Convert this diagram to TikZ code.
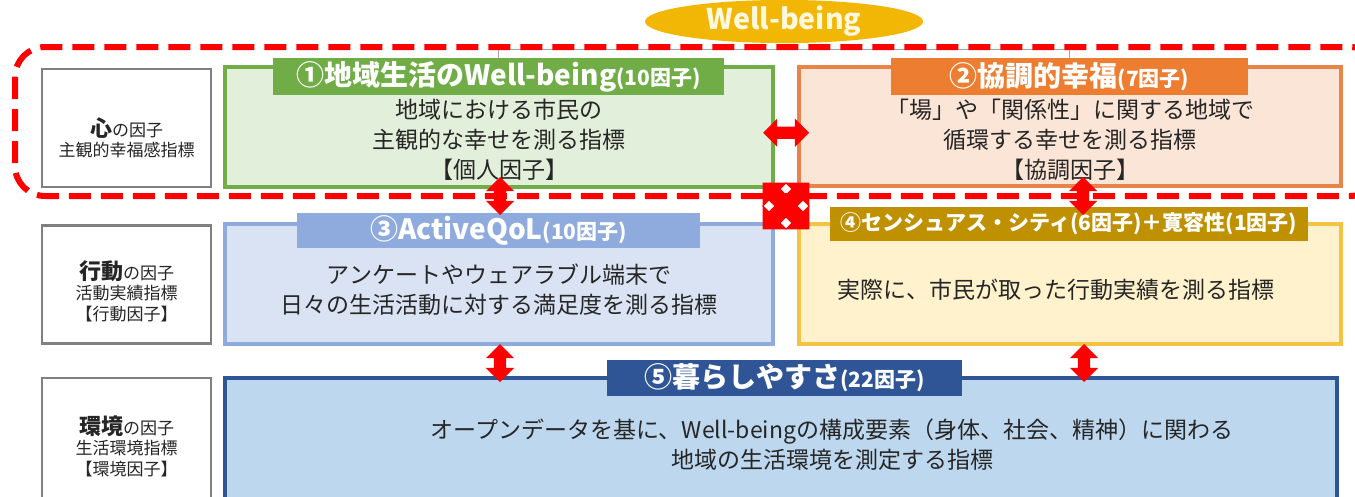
\documentclass[tikz,border=0pt]{standalone}
\usepackage{fontspec}
\setmainfont{Noto Sans CJK JP}
\usetikzlibrary{shapes.arrows,shapes.geometric,calc}
\definecolor{cgreen}{HTML}{70AD47}
\definecolor{cgreenf}{HTML}{E2EFDA}
\definecolor{corange}{HTML}{E8844A}
\definecolor{corangeb}{HTML}{ED7D31}
\definecolor{corangef}{HTML}{FBE5D6}
\definecolor{cblue}{HTML}{8FAADC}
\definecolor{cbluef}{HTML}{DAE3F3}
\definecolor{cyel}{HTML}{F5C342}
\definecolor{cyelf}{HTML}{FFF2CC}
\definecolor{cyelt}{HTML}{BF9000}
\definecolor{cdark}{HTML}{2F5597}
\definecolor{cdarkf}{HTML}{BDD7EE}
\definecolor{cgold}{HTML}{F2B705}
\definecolor{ctext}{HTML}{262626}
\definecolor{clgray}{HTML}{808080}
\definecolor{cred}{HTML}{FF0000}
\begin{document}
\begin{tikzpicture}[x=1pt,y=-1pt,
  lbl/.style={draw=clgray, line width=2.5pt, fill=white, minimum width=169pt, minimum height=118pt, inner sep=0pt},
  ltxt/.style={align=center, text=ctext, font=\fontsize{17}{20.5}\selectfont, inner sep=0pt},
  box/.style={line width=3.5pt, inner sep=0pt},
  btxt/.style={align=center, text=ctext, font=\fontsize{23}{30}\selectfont, inner sep=0pt},
  ttl/.style={text=white, inner sep=0pt, font=\bfseries\fontsize{28}{32}\selectfont},
  fat/.style={double arrow, fill=cred, draw=none, inner xsep=0pt, inner ysep=6pt, minimum height=#1, double arrow head extend=8pt},
  fatx/.style={double arrow, fill=cred, draw=none, inner xsep=0pt, inner ysep=8pt, minimum height=66pt, double arrow head extend=9pt},
]
\useasboundingbox (0,0) rectangle (1355,496);
\clip (0,0) rectangle (1355,496);
\fill[white] (0,0) rectangle (1355,496);

% left label boxes
\node[lbl] (l1) at (126.5,128) {};
\node[lbl] (l2) at (126.5,284.5) {};
\node[lbl, minimum height=124pt] (l3) at (126.5,440) {};
\node[ltxt] (l1t) at (126.5,138) {{\bfseries\fontsize{22}{24}\selectfont 心}の因子\\主観的幸福感指標};
\node[ltxt] (l2t) at (126.5,291) {{\bfseries\fontsize{22}{24}\selectfont 行動}の因子\\活動実績指標\\【行動因子】};
\node[ltxt] (l3t) at (126.5,446) {{\bfseries\fontsize{22}{24}\selectfont 環境}の因子\\生活環境指標\\【環境因子】};

% main boxes
\node[box, draw=cgreen, fill=cgreenf, minimum width=548pt, minimum height=120pt] (b1) at (499,127) {};
\node[box, draw=corange, fill=corangef, minimum width=542pt, minimum height=119pt] (b2) at (1070,126.5) {};
\node[box, draw=cblue, fill=cbluef, minimum width=548pt, minimum height=120pt] (b3) at (499,284) {};
\node[box, draw=cyel, fill=cyelf, minimum width=542pt, minimum height=120pt] (b4) at (1070,284) {};
\node[box, draw=cdark, fill=cdarkf, minimum width=1112pt, minimum height=126pt] (b5) at (781,441) {};

% title bars
\node[ttl, fill=cgreen, minimum width=451pt, minimum height=37pt] (t1) at (498.5,76.5) {①地域生活のWell-being{\fontsize{21}{24}\selectfont(10因子)}};
\node[ttl, fill=corangeb, minimum width=357pt, minimum height=37pt] (t2) at (1069.5,76.5) {②協調的幸福{\fontsize{21}{24}\selectfont(7因子)}};
\node[ttl, fill=cblue, minimum width=403pt, minimum height=35pt] (t3) at (498.5,230.5) {③ActiveQoL{\fontsize{21}{24}\selectfont(10因子)}};
\node[ttl, fill=cyelt, minimum width=478pt, minimum height=34pt, font=\bfseries\fontsize{21}{24}\selectfont] (t4) at (1069,224) {④センシュアス・シティ(6因子)＋寛容性(1因子)};
\node[ttl, fill=cdark, minimum width=355pt, minimum height=36pt] (t5) at (784.5,378) {⑤暮らしやすさ{\fontsize{21}{24}\selectfont(22因子)}};

% box texts
\node[btxt] (b1t) at (499,140) {地域における市民の\\主観的な幸せを測る指標\\【個人因子】};
\node[btxt] (b2t) at (1070,140) {「場」や「関係性」に関する地域で\\循環する幸せを測る指標\\【協調因子】};
\node[btxt] (b3t) at (499,290) {アンケートやウェアラブル端末で\\日々の生活活動に対する満足度を測る指標};
\node[btxt] (b4t) at (1056,290) {実際に、市民が取った行動実績を測る指標};
\node[btxt] (b5t) at (832,445) {オープンデータを基に、Well-beingの構成要素（身体、社会、精神）に関わる\\地域の生活環境を測定する指標};

% connector between the two heart-factor titles
\draw[clgray!70, line width=1pt] (t1.north) -- ++(0,-8) -| (t2.north);

% Well-being ellipse
\node[ellipse, fill=cgold, minimum width=278pt, minimum height=40pt, inner sep=0pt, text={rgb,255:red,255;green,248;blue,220}, font=\bfseries\fontsize{28.5}{32}\selectfont] (wb) at (784,21.5) {Well-being};

% dashed frame
\draw[cred, line width=6pt, dash pattern=on 22pt off 10pt, rounded corners=30pt] (15,47) rectangle (1380,196);

% fat arrows
\node[fat=46pt] (a12) at ($(b1.east)!0.5!(b2.west)+(0,6)$) {};
\node[fat=38pt, rotate=90] (a13) at (500,196) {};
\node[fat=38pt, rotate=90] (a24) at (1083,196) {};
\node[fat=38pt, rotate=90] (a35) at (500,363) {};
\node[fat=38pt, rotate=90] (a45) at (1084,363) {};
\node[fatx, rotate=45] (x1) at (786,206) {};
\node[fatx, rotate=-45] (x2) at (786,206) {};
\end{tikzpicture}
\end{document}
